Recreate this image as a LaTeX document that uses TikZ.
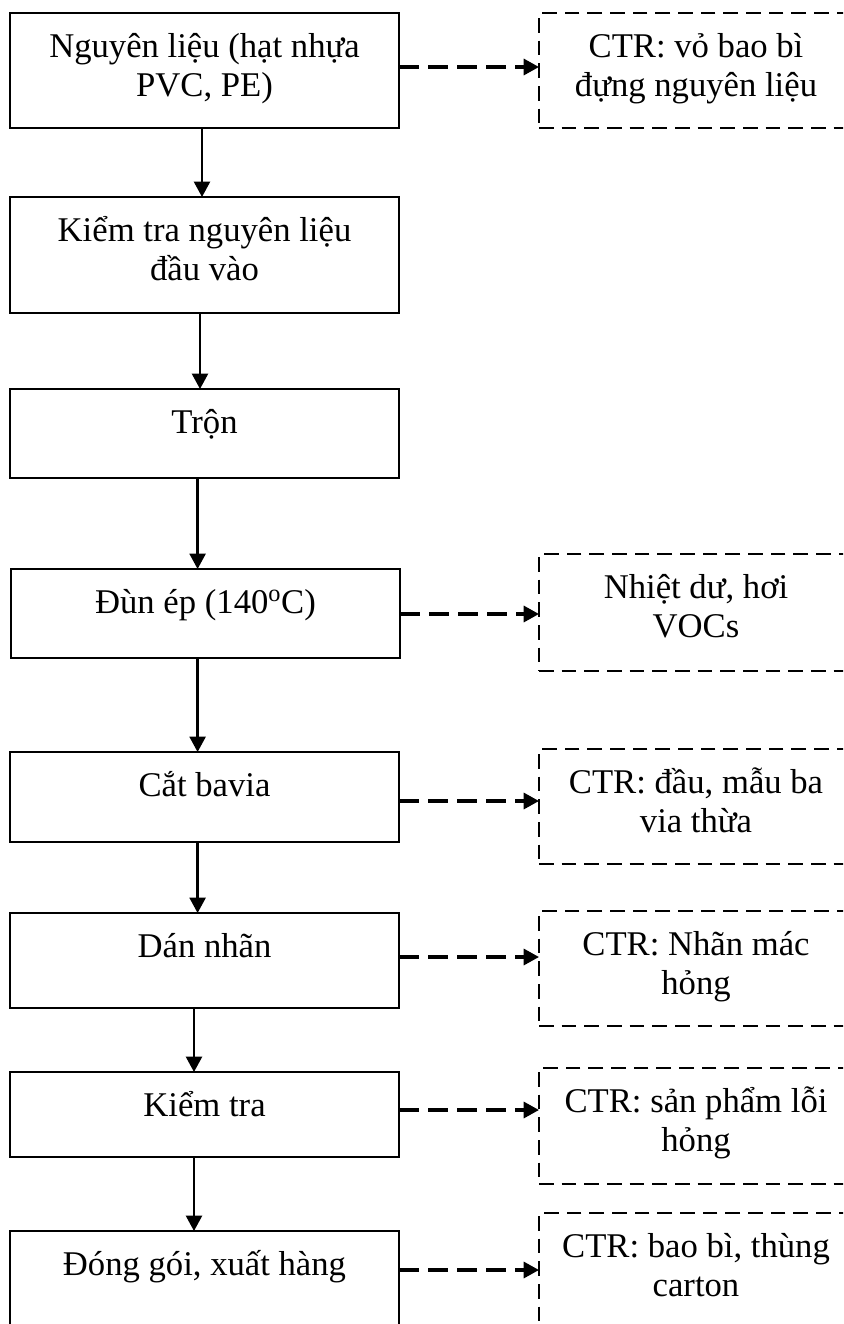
\documentclass[tikz,border=0pt]{standalone}
\usepackage{fontspec}
\setmainfont{Liberation Serif}
\usetikzlibrary{arrows.meta}
\begin{document}
\begin{tikzpicture}[x=0.75pt,y=-0.75pt,
  stage/.style={draw, line width=1.7pt, rectangle, minimum width=291.75pt,
    anchor=north west, inner sep=0pt, outer sep=0pt},
  waste/.style={draw, line width=1.3pt, dash pattern=on 11pt off 6pt,
    rectangle, minimum width=235.5pt, anchor=north west, inner sep=0pt, outer sep=0pt},
  lbl/.style={font=\fontsize{26pt}{29.5pt}\selectfont, align=center,
    inner sep=0pt, anchor=north},
  flow/.style={line width=1.7pt, -{Triangle[length=11.5pt,width=12pt]}},
  outflow/.style={line width=2.4pt, dash pattern=on 15pt off 6.75pt,
    -{Triangle[length=11.5pt,width=12pt]}},
]
\useasboundingbox (0,0) rectangle (843,1324);
\clip (0,0) rectangle (843,1324);
\fill[white] (0,0) rectangle (843,1324);

% process steps
\node[stage, minimum height=86.25pt] (b1) at (10,13) {};
\node[stage, minimum height=87pt]    (b2) at (10,197) {};
\node[stage, minimum height=66.75pt] (b3) at (10,389) {};
\node[stage, minimum height=66.75pt] (b4) at (11,569) {};
\node[stage, minimum height=67.5pt]  (b5) at (10,752) {};
\node[stage, minimum height=71.25pt] (b6) at (10,913) {};
\node[stage, minimum height=63.75pt] (b7) at (10,1072) {};
\node[stage, minimum height=85.5pt]  (b8) at (10,1231) {};

% waste streams
\node[waste, minimum height=86.25pt] (r1) at (539,13) {};
\node[waste, minimum height=87.75pt] (r2) at (539,554) {};
\node[waste, minimum height=86.25pt] (r3) at (539,749) {};
\node[waste, minimum height=86.25pt] (r4) at (539,911) {};
\node[waste, minimum height=87pt]    (r5) at (539,1068) {};
\node[waste, minimum height=87.75pt] (r6) at (539,1213) {};

% step labels
\node[lbl] (t1) at ([yshift=-33pt]b1.north) {\smash{Nguyên liệu (hạt nhựa}\\\smash{PVC, PE)}};
\node[lbl] (t2) at ([yshift=-33pt]b2.north) {\smash{Kiểm tra nguyên liệu}\\\smash{đầu vào}};
\node[lbl] (t3) at ([yshift=-33pt]b3.north) {\smash{Trộn}};
\node[lbl] (t4) at ([yshift=-33pt]b4.north) {\smash{Đùn ép (140\textsuperscript{o}C)}};
\node[lbl] (t5) at ([yshift=-33pt]b5.north) {\smash{Cắt bavia}};
\node[lbl] (t6) at ([yshift=-33pt]b6.north) {\smash{Dán nhãn}};
\node[lbl] (t7) at ([yshift=-33pt]b7.north) {\smash{Kiểm tra}};
\node[lbl] (t8) at ([yshift=-33pt]b8.north) {\smash{Đóng gói, xuất hàng}};

% waste labels
\node[lbl] (u1) at ([yshift=-33pt]r1.north) {\smash{CTR: vỏ bao bì}\\\smash{đựng nguyên liệu}};
\node[lbl] (u2) at ([yshift=-33pt]r2.north) {\smash{Nhiệt dư, hơi}\\\smash{VOCs}};
\node[lbl] (u3) at ([yshift=-33pt]r3.north) {\smash{CTR: đầu, mẫu ba}\\\smash{via thừa}};
\node[lbl] (u4) at ([yshift=-33pt]r4.north) {\smash{CTR: Nhãn mác}\\\smash{hỏng}};
\node[lbl] (u5) at ([yshift=-33pt]r5.north) {\smash{CTR: sản phẩm lỗi}\\\smash{hỏng}};
\node[lbl] (u6) at ([yshift=-33pt]r6.north) {\smash{CTR: bao bì, thùng}\\\smash{carton}};

% main flow
\draw[flow] ([xshift=-1.875pt]b1.south) -- ([xshift=-1.875pt]b2.north);
\draw[flow] ([xshift=-3.375pt]b2.south) -- ([xshift=-3.375pt]b3.north);
\draw[flow] ([xshift=-5.175pt]b3.south) -- ([xshift=-5.925pt]b4.north);
\draw[flow] ([xshift=-5.925pt]b4.south) -- ([xshift=-5.175pt]b5.north);
\draw[flow] ([xshift=-5.175pt]b5.south) -- ([xshift=-5.175pt]b6.north);
\draw[flow] ([xshift=-7.875pt]b6.south) -- ([xshift=-7.875pt]b7.north);
\draw[flow] ([xshift=-7.875pt]b7.south) -- ([xshift=-7.875pt]b8.north);

% outputs
\coordinate (ya) at (0,67);
\coordinate (yb) at (0,614);
\coordinate (yc) at (0,801);
\coordinate (yd) at (0,957);
\coordinate (ye) at (0,1110);
\coordinate (yf) at (0,1270);
\draw[outflow] (b1.east |- ya) -- (r1.west |- ya);
\draw[outflow] (b4.east |- yb) -- (r2.west |- yb);
\draw[outflow] (b5.east |- yc) -- (r3.west |- yc);
\draw[outflow] (b6.east |- yd) -- (r4.west |- yd);
\draw[outflow] (b7.east |- ye) -- (r5.west |- ye);
\draw[outflow] (b8.east |- yf) -- (r6.west |- yf);
\end{tikzpicture}
\end{document}
